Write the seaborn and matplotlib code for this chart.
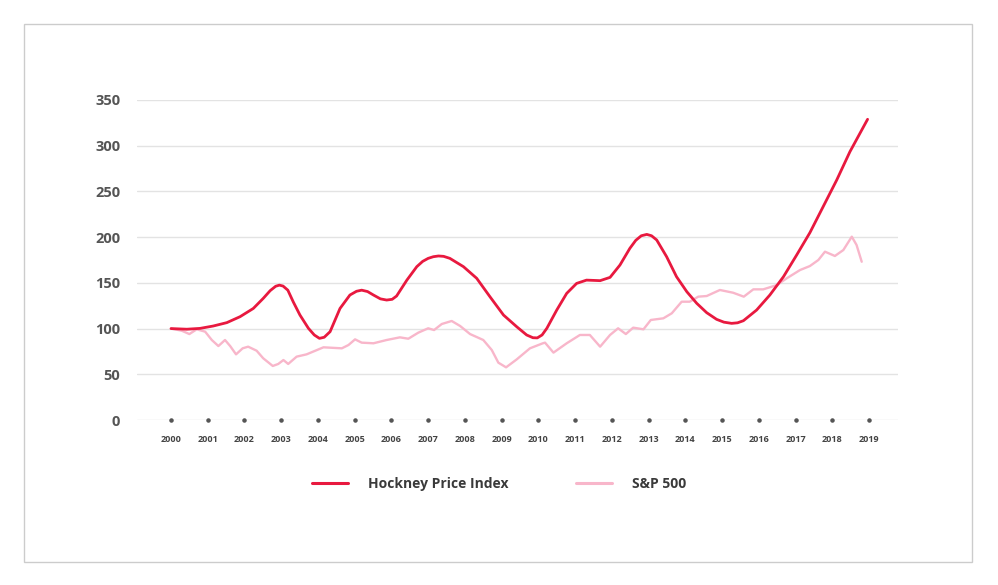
import matplotlib
matplotlib.use("Agg")
import matplotlib.pyplot as plt
import seaborn as sns
import pandas as pd
from matplotlib.patches import Rectangle

# ---- data ----
years = list(range(2000, 2020))
y_ticks = [0, 50, 100, 150, 200, 250, 300, 350]

hockney_t = [2000.0, 2000.43, 2000.79, 2001.15, 2001.52, 2001.88, 2002.24, 2002.51,
             2002.7, 2002.85, 2002.95, 2003.05, 2003.18, 2003.33, 2003.51, 2003.74,
             2003.9, 2004.04, 2004.17, 2004.33,
             2004.6, 2004.87, 2005.05, 2005.19, 2005.35, 2005.51, 2005.7, 2005.87,
             2006.02, 2006.14, 2006.42, 2006.69,
             2006.85, 2007.0, 2007.14, 2007.28, 2007.42, 2007.59, 2007.96, 2008.32,
             2008.68, 2009.05, 2009.41,
             2009.68, 2009.85, 2009.97, 2010.1, 2010.23, 2010.5, 2010.77, 2011.04,
             2011.31, 2011.68,
             2011.95, 2012.22, 2012.49, 2012.65, 2012.8, 2012.95, 2013.08, 2013.22,
             2013.49, 2013.76,
             2014.04, 2014.31, 2014.58, 2014.85, 2015.05, 2015.26, 2015.42, 2015.58,
             2015.94, 2016.3,
             2016.67, 2017.03, 2017.39, 2017.75, 2018.12, 2018.48, 2018.96]
hockney_v = [100.0, 99.3, 100.2, 102.8, 106.5, 113.0, 122.0, 133.0,
             141.5, 146.3, 147.5, 146.5, 142.0, 129.0, 114.8, 100.3,
             93.0, 89.3, 90.5, 96.6,
             122.0, 136.7, 140.8, 142.0, 140.5, 136.7, 132.5, 131.2,
             132.0, 135.6, 153.0, 167.7,
             173.5, 176.8, 178.6, 179.4, 179.0, 176.8, 167.7, 155.0,
             134.9, 114.8, 102.0,
             93.0, 90.0, 89.8, 93.0, 100.3, 120.3, 138.5, 149.4,
             153.0, 152.4,
             156.0, 169.5, 187.8, 196.5, 201.5, 203.0, 201.5, 196.9,
             178.6, 156.7,
             140.3, 127.6, 117.4, 110.1, 107.0, 105.7, 106.3, 108.6,
             120.3, 136.7,
             156.7, 180.5, 204.9, 233.3, 262.5, 293.5, 328.9]

sp_t = [2000.0, 2000.29, 2000.5, 2000.7, 2000.93, 2001.11, 2001.29, 2001.47,
        2001.61, 2001.77, 2001.95, 2002.1, 2002.33, 2002.51, 2002.77, 2002.92,
        2003.06, 2003.19, 2003.42, 2003.69, 2004.15, 2004.65, 2004.83, 2005.01,
        2005.19, 2005.51, 2005.87, 2006.23, 2006.46, 2006.73, 2007.0, 2007.16,
        2007.37, 2007.64, 2007.87, 2008.14, 2008.5, 2008.73, 2008.91, 2009.12,
        2009.41, 2009.77, 2010.12, 2010.18, 2010.41, 2010.77, 2011.13, 2011.4,
        2011.68, 2011.95, 2012.17, 2012.38, 2012.58, 2012.86, 2013.06, 2013.4,
        2013.63, 2013.9, 2014.12, 2014.35, 2014.58, 2014.94, 2015.3, 2015.59,
        2015.85, 2016.12, 2016.49, 2016.76, 2017.12, 2017.39, 2017.62, 2017.8,
        2018.07, 2018.3, 2018.53, 2018.66, 2018.8]
sp_v = [100.0, 97.7, 94.0, 99.2, 96.6, 87.5, 80.9, 87.5,
        80.9, 71.8, 78.4, 80.2, 75.8, 67.5, 59.1, 61.3,
        65.6, 61.3, 69.3, 71.8, 79.5, 78.4, 82.0, 88.2,
        84.6, 83.9, 87.5, 90.4, 88.9, 95.5, 100.3, 98.4,
        105.0, 108.3, 102.8, 94.0, 87.5, 76.6, 62.7, 57.6,
        66.3, 78.4, 83.9, 84.6, 73.7, 83.9, 93.0, 93.0,
        80.2, 93.0, 100.3, 94.0, 101.0, 99.2, 109.4, 111.2,
        116.7, 129.4, 129.4, 134.9, 135.6, 142.2, 139.2, 134.9,
        142.9, 142.9, 147.6, 155.0, 164.0, 168.4, 175.0, 184.1,
        179.4, 185.9, 200.5, 191.4, 173.1]

series_names = ["Hockney Price Index", "S&P 500"]
red = "#E8193F"
pink = "#F8B6CA"

# ---- figure ----
sns.set_theme(style="white")
plt.rcParams["font.family"] = ["Open Sans", "DejaVu Sans"]

W, H = 998, 585
fig = plt.figure(figsize=(W / 100, H / 100), dpi=100)
fig.patch.set_facecolor("white")
ax = fig.add_axes([137 / W, (H - 420) / H, (898 - 137) / W, (420 - 100) / H])

df_h = pd.DataFrame({"year": hockney_t, "value": hockney_v})
df_s = pd.DataFrame({"year": sp_t, "value": sp_v})

sns.lineplot(data=df_s, x="year", y="value", ax=ax, color=pink, linewidth=1.7,
             sort=False, estimator=None, label=series_names[1], zorder=3)
sns.lineplot(data=df_h, x="year", y="value", ax=ax, color=red, linewidth=2.0,
             sort=False, estimator=None, label=series_names[0], zorder=4)
for ln in ax.lines:
    ln.set_solid_joinstyle("round")
    ln.set_solid_capstyle("round")

# dots on the zero line at each year
ax.scatter(years, [0] * len(years), s=5, color="#555555", zorder=5, clip_on=False)

x0 = 2000 + (137 - 171) / 36.74
x1 = 2000 + (898 - 171) / 36.74
ax.set_xlim(x0, x1)
ax.set_ylim(0, 350)
ax.set_yticks(y_ticks)
ax.set_yticklabels([str(v) for v in y_ticks])
ax.set_xticks(years)
ax.set_xticklabels([str(y) for y in years])
ax.grid(axis="y", color="#e3e3e3", linewidth=1.0)
ax.grid(axis="x", visible=False)
for sp in ax.spines.values():
    sp.set_visible(False)
ax.tick_params(axis="y", length=0, pad=12, labelsize=10.5, labelcolor="#555555")
ax.tick_params(axis="x", length=0, pad=11, labelsize=6.5, labelcolor="#444444")
for lbl in ax.get_yticklabels():
    lbl.set_fontweight("bold")
for lbl in ax.get_xticklabels():
    lbl.set_fontweight("bold")
ax.set_xlabel("")
ax.set_ylabel("")

handles, labels = ax.get_legend_handles_labels()
order = [labels.index(n) for n in series_names]
leg = ax.legend([handles[i] for i in order], [labels[i] for i in order],
                loc="center", bbox_to_anchor=(0.5, (H - 484) / H), bbox_transform=fig.transFigure,
                ncol=2, frameon=False, handlelength=2.6, handletextpad=1.4,
                columnspacing=4.9, prop={"size": 10, "weight": "bold"})
for t in leg.get_texts():
    t.set_color("#3a3a3a")
for lh in leg.get_lines():
    lh.set_linewidth(2.2)

fig.patches.append(Rectangle((24 / W, (H - 562) / H), (972 - 24) / W, (562 - 24) / H,
                             transform=fig.transFigure, fill=False,
                             edgecolor="#cccccc", linewidth=1.0))

fig.savefig("out.png", dpi=100, facecolor="white")
